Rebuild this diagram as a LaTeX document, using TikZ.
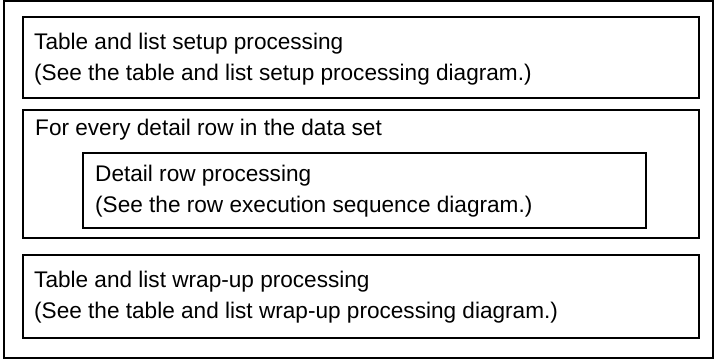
\documentclass[tikz,border=0pt]{standalone}
\usepackage{fontspec}
\setmainfont{Liberation Sans}
\begin{document}
\begin{tikzpicture}[x=1pt,y=-1pt]
			\tikzstyle{every node}+=[inner sep=0pt, anchor=base west, font=\fontsize{22.6}{27}\selectfont]
			\tikzstyle{frame}=[black, line width=1.3pt]
			\tikzstyle{block}=[black, line width=2.2pt]
			\useasboundingbox (0,0) rectangle (717,360);
			\draw [frame] (4,1) rectangle (713,358);
			\draw [block] (23,17) rectangle (699,98);
			\draw (34,49) node (setupHead) {Table and list setup processing};
			\draw (34,80) node (setupRef) {(See the table and list setup processing diagram.)};
			\draw [block] (23,110) rectangle (699,238);
			\draw (35,135) node (loopHead) {For every detail row in the data set};
			\draw [block] (83,153) rectangle (646,228);
			\draw (95,181) node (rowHead) {Detail row processing};
			\draw (95,212) node (rowRef) {(See the row execution sequence diagram.)};
			\draw [block] (23,255) rectangle (699,338);
			\draw (34,287) node (wrapHead) {Table and list wrap-up processing};
			\draw (34,318) node (wrapRef) {(See the table and list wrap-up processing diagram.)};
		\end{tikzpicture}
\end{document}
